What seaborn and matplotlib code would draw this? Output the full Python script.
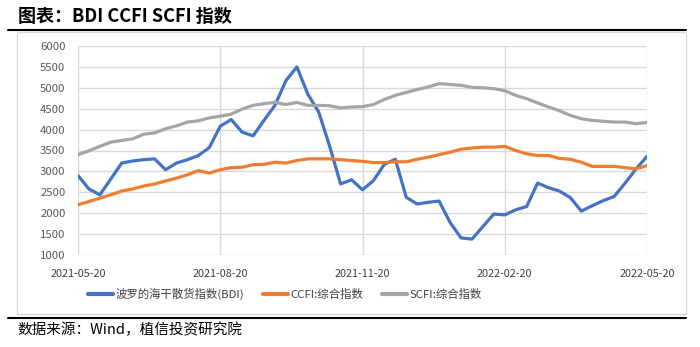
import matplotlib
matplotlib.use("Agg")
import matplotlib.pyplot as plt
from matplotlib.lines import Line2D
import seaborn as sns
import pandas as pd

# Weekly index values, 2021-05-20 .. 2022-05-20
weeks = list(range(53))

bdi = [2900, 2580, 2440, 2820, 3200, 3250, 3280, 3300, 3040, 3200,
       3280, 3380, 3570, 4080, 4240, 3940, 3850, 4220, 4580, 5170,
       5500, 4850, 4420, 3600, 2700, 2800, 2560, 2780, 3170, 3290,
       2380, 2220, 2260, 2290, 1780, 1410, 1380, 1680, 1980, 1960,
       2080, 2160, 2720, 2610, 2530, 2370, 2050, 2180, 2300, 2400,
       2720, 3060, 3360]

ccfi = [2200, 2280, 2360, 2440, 2530, 2580, 2650, 2700, 2770, 2840,
        2920, 3020, 2960, 3040, 3090, 3100, 3160, 3170, 3220, 3200,
        3260, 3300, 3300, 3300, 3280, 3260, 3240, 3210, 3210, 3230,
        3230, 3290, 3340, 3400, 3460, 3530, 3560, 3580, 3580, 3600,
        3500, 3420, 3380, 3380, 3310, 3290, 3220, 3120, 3120, 3120,
        3090, 3060, 3140]

scfi = [3400, 3490, 3600, 3700, 3740, 3780, 3890, 3920, 4020, 4090,
        4180, 4210, 4280, 4320, 4370, 4490, 4580, 4620, 4650, 4600,
        4650, 4580, 4580, 4570, 4520, 4540, 4550, 4600, 4720, 4820,
        4890, 4960, 5020, 5100, 5080, 5060, 5010, 5000, 4980, 4930,
        4820, 4740, 4640, 4540, 4450, 4340, 4260, 4220, 4200, 4180,
        4180, 4140, 4170]

series_names = ["波罗的海干散货指数(BDI)", "CCFI:综合指数", "SCFI:综合指数"]
colors = ["#4472C4", "#ED7D31", "#A5A5A5"]

tick_pos = [0, 13, 26, 39, 52]
tick_labels = ["2021-05-20", "2021-08-20", "2021-11-20", "2022-02-20", "2022-05-20"]
y_ticks = list(range(1000, 6001, 500))

df = pd.concat([
    pd.DataFrame({"week": weeks, "value": vals, "series": name})
    for name, vals in zip(series_names, [bdi, ccfi, scfi])
])

sns.set_theme(style="white")
plt.rcParams["font.family"] = ["Noto Sans CJK SC", "DejaVu Sans"]

fig = plt.figure(figsize=(7.0, 3.47), dpi=100)
ax = fig.add_axes([78 / 700, 1 - 255 / 347, (647 - 78) / 700, (255 - 46) / 347])

sns.lineplot(data=df, x="week", y="value", hue="series",
             palette=dict(zip(series_names, colors)),
             linewidth=2.3, ax=ax, legend=False, zorder=3)

ax.set_xlim(0, 52)
ax.set_ylim(1000, 6000)
ax.set_xticks(tick_pos)
ax.set_xticklabels(tick_labels)
ax.set_yticks(y_ticks)
ax.set_xlabel("")
ax.set_ylabel("")

grid_c = "#D9D9D9"
ax.grid(True, color=grid_c, linewidth=1.0)
for s in ax.spines.values():
    s.set_visible(False)
ax.tick_params(axis="x", length=4, color=grid_c, width=1.0, pad=6,
               labelsize=7.8, labelcolor="#404040")
ax.tick_params(axis="y", length=0, pad=9, labelsize=8.2, labelcolor="#595959")

handles = [Line2D([0], [0], color=c, linewidth=3) for c in colors]
fig.legend(handles, series_names, loc="center", bbox_to_anchor=(285 / 700, 1 - 294 / 347),
           ncol=3, frameon=False, fontsize=8.2, handlelength=2.2, columnspacing=1.6,
           handletextpad=0.25, labelcolor="#404040")

# outer chart frame and header/footer rules
fig.add_artist(plt.Rectangle((17 / 700, 1 - 314 / 347), (686 - 17) / 700, (314 - 32) / 347,
                             transform=fig.transFigure, fill=False,
                             edgecolor="#D9D9D9", linewidth=1.0))
fig.add_artist(Line2D([8 / 700, 686 / 700], [1 - 29.5 / 347] * 2,
                      transform=fig.transFigure, color="black", linewidth=1.5))
fig.add_artist(Line2D([8 / 700, 686 / 700], [1 - 318 / 347] * 2,
                      transform=fig.transFigure, color="black", linewidth=1.5))

fig.text(18 / 700, 1 - 17 / 347, "图表：BDI CCFI SCFI 指数", fontsize=13,
         fontweight="bold", va="center", ha="left", color="black")
fig.text(17 / 700, 1 - 330 / 347, "数据来源：Wind，植信投资研究院", fontsize=10.5,
         va="center", ha="left", color="black")

fig.savefig("out.png", dpi=100, facecolor="white")
